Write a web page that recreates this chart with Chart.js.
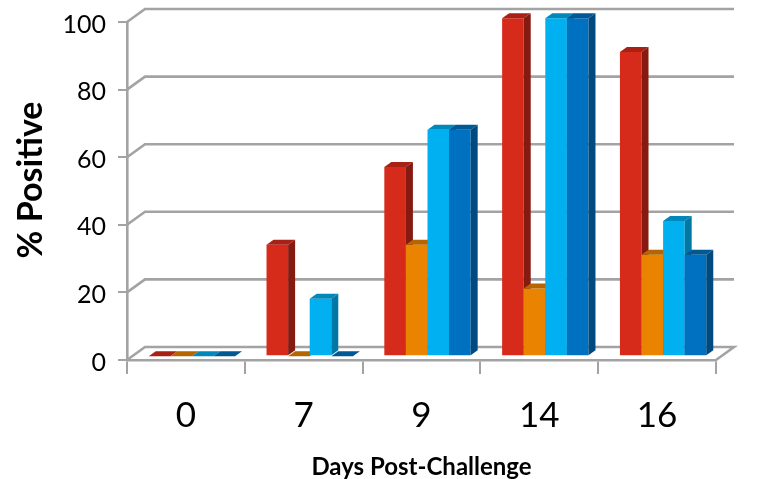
<!DOCTYPE html>
<html>
<head>
<meta charset="utf-8">
<title>% Positive by days post-challenge</title>
<script src="https://cdn.jsdelivr.net/npm/chart.js@4"></script>
<style>
  html, body { margin: 0; padding: 0; background: #fff; }
  canvas { display: block; }
</style>
</head>
<body>
<canvas id="myChart" width="761" height="479"></canvas>
<script>
// Valeurs
var days = ['0', '7', '9', '14', '16'];
var redValues = [0, 33, 56, 100, 90];
var orangeValues = [0, 0, 33, 20, 30];
var lightBlueValues = [0, 17, 67, 100, 40];
var darkBlueValues = [0, 0, 67, 100, 30];
var yTicks = [0, 20, 40, 60, 80, 100];

var gridGrey = '#a3a3a3';
var fontName = 'Lato, sans-serif';

// mur du fond et décalage des barres (faux 3D)
var wallX = 18, wallY = -13;
var barShiftX = 6, barShiftY = -3.8;
var depthX = 7, depthY = -5;

var wall3d = {
    id: 'wall3d',
    beforeDatasetsDraw: function(chart) {
        var ctx = chart.ctx, y = chart.scales.y, area = chart.chartArea;
        ctx.save();
        ctx.strokeStyle = gridGrey;
        ctx.lineWidth = 2.6;
        yTicks.forEach(function(t) {
            var py = y.getPixelForValue(t);
            ctx.beginPath();
            ctx.moveTo(area.left, py);
            ctx.lineTo(area.left + wallX, py + wallY);
            ctx.lineTo(area.right + wallX, py + wallY);
            if (t === 0) ctx.lineTo(area.right, py);
            ctx.stroke();
        });
        ctx.restore();
    },
    // on annule le dessin normal : Chart.js dessine la première série en dernier
    beforeDatasetDraw: function() {
        return false;
    },
    afterDatasetsDraw: function(chart) {
        var ctx = chart.ctx;
        ctx.save();
        ctx.translate(barShiftX, barShiftY);
        chart.data.datasets.forEach(function(ds, i) {
            var meta = chart.getDatasetMeta(i);
            meta.controller.draw();
            meta.data.forEach(function(bar) {
                var l = bar.x - bar.width / 2, r = bar.x + bar.width / 2;
                // dessus
                ctx.fillStyle = ds.topColor;
                ctx.beginPath();
                ctx.moveTo(l, bar.y);
                ctx.lineTo(l + depthX, bar.y + depthY);
                ctx.lineTo(r + depthX, bar.y + depthY);
                ctx.lineTo(r, bar.y);
                ctx.closePath();
                ctx.fill();
                // côté
                ctx.fillStyle = ds.sideColor;
                ctx.beginPath();
                ctx.moveTo(r, bar.y);
                ctx.lineTo(r + depthX, bar.y + depthY);
                ctx.lineTo(r + depthX, bar.base + depthY);
                ctx.lineTo(r, bar.base);
                ctx.closePath();
                ctx.fill();
            });
        });
        ctx.restore();
    },
    afterDraw: function(chart) {
        // titre vertical, plus haut que le centre de l'axe
        var ctx = chart.ctx;
        ctx.save();
        ctx.translate(31, 180);
        ctx.rotate(-Math.PI / 2);
        ctx.font = 'bold 34px ' + fontName;
        ctx.fillStyle = '#000';
        ctx.textAlign = 'center';
        ctx.textBaseline = 'middle';
        ctx.fillText('% Positive', 0, 0);
        ctx.restore();
    }
};

function makeSeries(label, values, color, top, side) {
    return {
        label: label,
        data: values,
        backgroundColor: color,
        topColor: top,
        sideColor: side,
        borderWidth: 0,
        categoryPercentage: 0.733,
        barPercentage: 1
    };
}

var ctx = document.getElementById('myChart').getContext('2d');
var myChart = new Chart(ctx, {
    type: 'bar',
    data: {
        labels: days,
        datasets: [
            makeSeries('Series 1', redValues, '#d62a1a', '#a92114', '#861a10'),
            makeSeries('Series 2', orangeValues, '#ea8400', '#b56600', '#a05a00'),
            makeSeries('Series 3', lightBlueValues, '#00b0f0', '#0088ba', '#0078a5'),
            makeSeries('Series 4', darkBlueValues, '#0070c0', '#005895', '#004a80')
        ]
    },
    options: {
        responsive: false,
        animation: false,
        layout: { padding: { top: 22, right: 45 } },
        plugins: {
            legend: { display: false },
            tooltip: { enabled: false }
        },
        scales: {
            x: {
                afterFit: function(scale) { scale.height = 119; },
                grid: {
                    offset: true,
                    drawOnChartArea: false,
                    color: gridGrey,
                    lineWidth: 2,
                    tickLength: 14
                },
                border: { color: gridGrey, width: 2.6 },
                ticks: {
                    color: '#000',
                    padding: 21,
                    maxRotation: 0,
                    font: { family: fontName, size: 35 }
                },
                title: {
                    display: true,
                    text: 'Days Post-Challenge',
                    color: '#000',
                    font: { family: fontName, size: 24, weight: 'bold', lineHeight: 1 },
                    padding: { top: 0, bottom: 0 }
                }
            },
            y: {
                min: 0,
                max: 100,
                afterFit: function(scale) {
                    scale.width = 127;
                    scale.paddingTop = 0;
                    scale.paddingBottom = 0;
                },
                grid: {
                    drawOnChartArea: false,
                    color: gridGrey,
                    lineWidth: 2,
                    tickLength: 9
                },
                border: { color: gridGrey, width: 2.6 },
                ticks: {
                    stepSize: 20,
                    color: '#000',
                    padding: 12,
                    labelOffset: 2.5,
                    font: { family: fontName, size: 25 }
                }
            }
        }
    },
    plugins: [wall3d]
});
</script>
</body>
</html>
